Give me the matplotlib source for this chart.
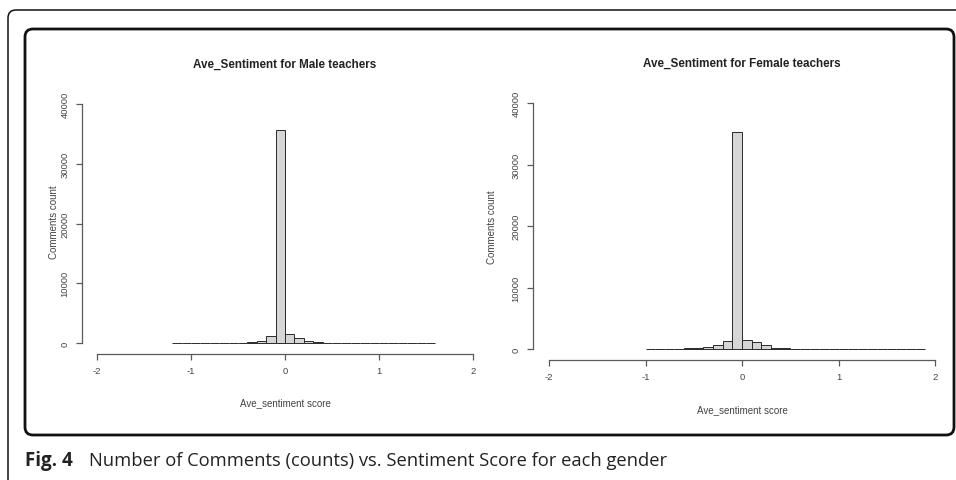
import matplotlib.pyplot as plt
from matplotlib.patches import FancyBboxPatch

# histogram bins (left edges, width 0.1) and counts
male_lefts = [-1.2, -1.1, -1.0, -0.9, -0.8, -0.7, -0.6, -0.5, -0.4, -0.3, -0.2, -0.1,
              0.0, 0.1, 0.2, 0.3, 0.4, 0.5, 0.6, 0.7, 0.8, 0.9, 1.0, 1.1, 1.2, 1.3, 1.4, 1.5]
male_counts = [5, 3, 5, 5, 8, 10, 20, 40, 170, 390, 1250, 35600,
               1560, 890, 300, 110, 50, 25, 15, 10, 8, 5, 5, 3, 3, 2, 2, 3]

female_lefts = [-1.0, -0.9, -0.8, -0.7, -0.6, -0.5, -0.4, -0.3, -0.2, -0.1,
                0.0, 0.1, 0.2, 0.3, 0.4, 0.5, 0.6, 0.7, 0.8, 0.9, 1.0, 1.1, 1.2, 1.3,
                1.4, 1.5, 1.6, 1.7, 1.8]
female_counts = [5, 8, 15, 30, 100, 200, 330, 600, 1300, 35300,
                 1520, 1090, 620, 220, 100, 40, 20, 10, 8, 5, 5, 3, 3, 2,
                 2, 2, 2, 2, 3]

x_ticks = [-2, -1, 0, 1, 2]
y_ticks = [0, 10000, 20000, 30000, 40000]

W, H = 956, 481
fig = plt.figure(figsize=(W / 100, H / 100), dpi=100)
plt.rcParams['font.family'] = ['Liberation Sans', 'DejaVu Sans']

axis_col = '#5a5a5a'
text_col = '#444444'


def px_axes(x0, x1, y0, y1):
    # x0/x1: pixels of x=-2 and x=2; y0/y1: pixels of y=0 and y=40000
    return fig.add_axes([x0 / W, (H - y0) / H, (x1 - x0) / W, (y0 - y1) / H])


def r_hist(ax, lefts, counts, title, xaxis_gap, yaxis_gap):
    ax.bar(lefts, counts, width=0.1, align='edge', color='#d6d6d6',
           edgecolor='#2a2a2a', linewidth=0.7, clip_on=False)
    ax.set_xlim(-2, 2)
    ax.set_ylim(0, 40000)
    ax.patch.set_alpha(0)
    for s in ['top', 'right']:
        ax.spines[s].set_visible(False)
    ax.spines['left'].set_position(('outward', yaxis_gap * 0.72))
    ax.spines['bottom'].set_position(('outward', xaxis_gap * 0.72))
    ax.spines['left'].set_bounds(0, 40000)
    ax.spines['bottom'].set_bounds(-2, 2)
    for s in ['left', 'bottom']:
        ax.spines[s].set_color(axis_col)
        ax.spines[s].set_linewidth(0.9)
    ax.set_xticks(x_ticks)
    ax.set_xticklabels([str(t) for t in x_ticks])
    ax.set_yticks(y_ticks)
    ax.set_yticklabels([str(t) for t in y_ticks], rotation=90, va='center')
    ax.tick_params(colors=axis_col, labelcolor=text_col, labelsize=6.8,
                   length=4, width=0.9, pad=5)
    ax.set_title(title, fontsize=8.4, fontweight='bold', color='#222222', pad=27)


ax1 = px_axes(97, 473, 344, 105)
r_hist(ax1, male_lefts, male_counts, 'Ave_Sentiment for Male teachers', 11, 15)
ax2 = px_axes(549, 935, 350, 104)
r_hist(ax2, female_lefts, female_counts, 'Ave_Sentiment for Female teachers', 11, 16)

# axis labels placed as in the figure
fig.text(285 / W, (H - 403) / H, 'Ave_sentiment score', fontsize=7,
         color=text_col, ha='center', va='center')
fig.text(742 / W, (H - 410) / H, 'Ave_sentiment score', fontsize=7,
         color=text_col, ha='center', va='center')
fig.text(54 / W, (H - 222) / H, 'Comments count', fontsize=7,
         color=text_col, ha='center', va='center', rotation=90)
fig.text(492 / W, (H - 227) / H, 'Comments count', fontsize=7,
         color=text_col, ha='center', va='center', rotation=90)

# frames around the panel (pixel based, via inches)
tr = fig.dpi_scale_trans
outer = FancyBboxPatch((8 / 100, (H - 520) / 100), 1000 / 100, 509 / 100,
                       boxstyle='round,pad=0,rounding_size=0.08',
                       transform=tr, fill=False, edgecolor='#111111', linewidth=1.1)
inner = FancyBboxPatch((25 / 100, (H - 436) / 100), 929 / 100, 406 / 100,
                       boxstyle='round,pad=0,rounding_size=0.08',
                       transform=tr, fill=False, edgecolor='#111111', linewidth=2.0)
fig.patches.extend([outer, inner])

# caption
fig.text(25 / W, (H - 461) / H, 'Fig. 4', fontsize=13.5, fontweight='bold',
         family=['Open Sans', 'DejaVu Sans'], color='#222222', va='center')
fig.text(89 / W, (H - 461) / H,
         'Number of Comments (counts) vs. Sentiment Score for each gender',
         fontsize=13.2, family=['Open Sans', 'DejaVu Sans'], color='#222222',
         va='center')

fig.savefig('out.png', dpi=100)
